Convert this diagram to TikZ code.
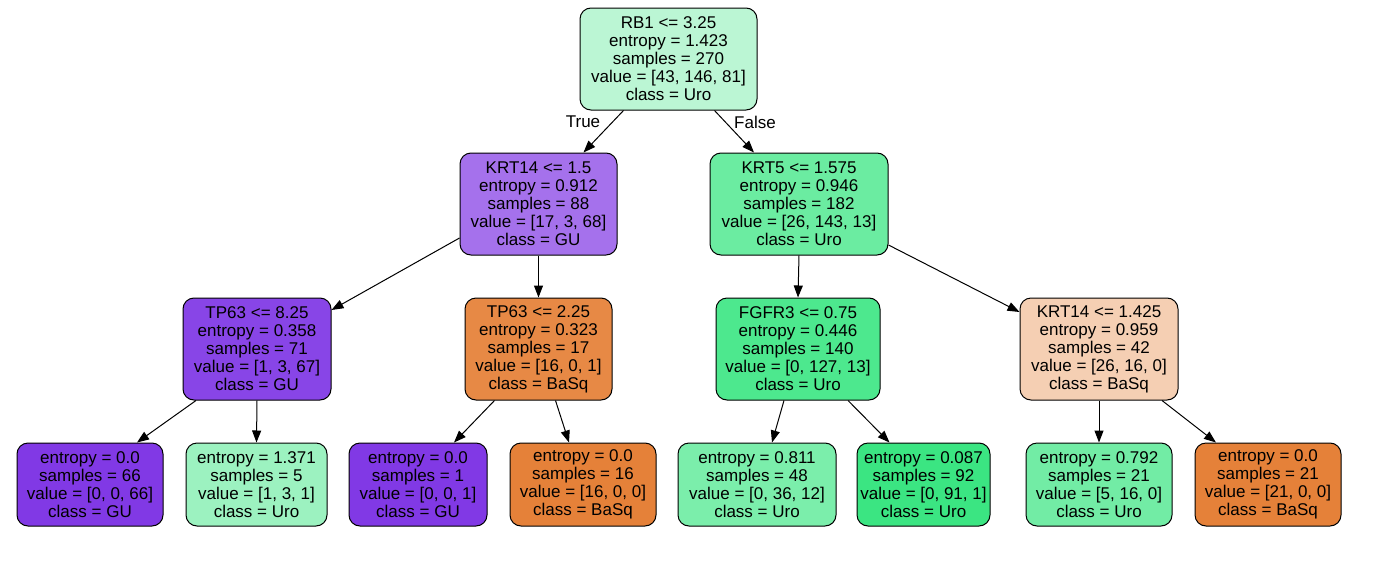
\documentclass[tikz,border=0pt]{standalone}
\usepackage{fontspec}
\setmainfont{Liberation Sans}
\usetikzlibrary{arrows.meta}
\definecolor{cRoot}{RGB}{187,246,212}
\definecolor{cKA}{RGB}{165,113,236}
\definecolor{cKB}{RGB}{107,236,161}
\definecolor{cTA}{RGB}{136,69,231}
\definecolor{cTB}{RGB}{231,137,69}
\definecolor{cFG}{RGB}{77,232,142}
\definecolor{cKC}{RGB}{245,207,179}
\definecolor{cGU}{RGB}{129,57,229}
\definecolor{cBa}{RGB}{229,129,57}
\definecolor{cLtwo}{RGB}{156,242,192}
\definecolor{cLfive}{RGB}{123,238,171}
\definecolor{cLsix}{RGB}{59,229,130}
\definecolor{cLseven}{RGB}{114,236,165}
\tikzset{
  tnode/.style={draw=black, line width=1pt, rounded corners=11pt, align=center,
    inner sep=0pt, font=\fontsize{17}{18}\selectfont, minimum height=102pt},
  leafnode/.style={tnode, minimum height=83pt},
  edge/.style={line width=1pt, -{Triangle[length=12pt,width=9pt]}},
  elabel/.style={font=\fontsize{17}{18}\selectfont}
}
\begin{document}
\begin{tikzpicture}[x=1pt,y=-1pt]
\useasboundingbox (0,0) rectangle (1379,573);
\fill[white] (0,0) rectangle (1379,573);
% internal nodes
\node[tnode, fill=cRoot, minimum width=177pt] (root) at (668.5,59) {RB1 <= 3.25\\entropy = 1.423\\samples = 270\\value = [43, 146, 81]\\class = Uro};
\node[tnode, fill=cKA, minimum width=157pt] (krtA) at (538.5,204) {KRT14 <= 1.5\\entropy = 0.912\\samples = 88\\value = [17, 3, 68]\\class = GU};
\node[tnode, fill=cKB, minimum width=178pt] (krtB) at (799,204) {KRT5 <= 1.575\\entropy = 0.946\\samples = 182\\value = [26, 143, 13]\\class = Uro};
\node[tnode, fill=cTA, minimum width=148pt] (tpA) at (257,349) {TP63 <= 8.25\\entropy = 0.358\\samples = 71\\value = [1, 3, 67]\\class = GU};
\node[tnode, fill=cTB, minimum width=147pt] (tpB) at (538.5,349) {TP63 <= 2.25\\entropy = 0.323\\samples = 17\\value = [16, 0, 1]\\class = BaSq};
\node[tnode, fill=cFG, minimum width=164pt] (fg) at (798,349) {FGFR3 <= 0.75\\entropy = 0.446\\samples = 140\\value = [0, 127, 13]\\class = Uro};
\node[tnode, fill=cKC, minimum width=158pt] (krtC) at (1099,349) {KRT14 <= 1.425\\entropy = 0.959\\samples = 42\\value = [26, 16, 0]\\class = BaSq};
% leaves
\node[leafnode, fill=cGU, minimum width=146pt] (l1) at (90,484.5) {entropy = 0.0\\samples = 66\\value = [0, 0, 66]\\class = GU};
\node[leafnode, fill=cLtwo, minimum width=141pt] (l2) at (256.5,484.5) {entropy = 1.371\\samples = 5\\value = [1, 3, 1]\\class = Uro};
\node[leafnode, fill=cGU, minimum width=138pt] (l3) at (418,484.5) {entropy = 0.0\\samples = 1\\value = [0, 0, 1]\\class = GU};
\node[leafnode, fill=cBa, minimum width=146pt] (l4) at (583,484.5) {entropy = 0.0\\samples = 16\\value = [16, 0, 0]\\class = BaSq};
\node[leafnode, fill=cLfive, minimum width=158pt] (l5) at (757,484.5) {entropy = 0.811\\samples = 48\\value = [0, 36, 12]\\class = Uro};
\node[leafnode, fill=cLsix, minimum width=133pt] (l6) at (923.5,484.5) {entropy = 0.087\\samples = 92\\value = [0, 91, 1]\\class = Uro};
\node[leafnode, fill=cLseven, minimum width=146pt] (l7) at (1099,484.5) {entropy = 0.792\\samples = 21\\value = [5, 16, 0]\\class = Uro};
\node[leafnode, fill=cBa, minimum width=146pt] (l8) at (1268,484.5) {entropy = 0.0\\samples = 21\\value = [21, 0, 0]\\class = BaSq};
% edges
\draw[edge] ([xshift=-45pt]root.south) -- ([xshift=45pt]krtA.north);
\draw[edge] ([xshift=46pt]root.south) -- ([xshift=-45pt]krtB.north);
\node[elabel] (tlab) at (583,122) {True};
\node[elabel] (flab) at (755,122) {False};
\draw[edge] ([yshift=-34pt]krtA.west) -- ([yshift=39pt]tpA.east);
\draw[edge] (krtA.south) -- (tpB.north);
\draw[edge] (krtB.south) -- (fg.north);
\draw[edge] ([yshift=-41pt]krtB.east) -- ([yshift=37pt]krtC.west);
\draw[edge] ([xshift=-61pt]tpA.south) -- ([xshift=47pt]l1.north);
\draw[edge] (tpA.south) -- (l2.north);
\draw[edge] ([xshift=-44pt]tpB.south) -- ([xshift=36pt]l3.north);
\draw[edge] ([xshift=17pt]tpB.south) -- ([xshift=-14pt]l4.north);
\draw[edge] ([xshift=-14pt]fg.south) -- ([xshift=15pt]l5.north);
\draw[edge] ([xshift=50pt]fg.south) -- ([xshift=-34pt]l6.north);
\draw[edge] (krtC.south) -- (l7.north);
\draw[edge] ([xshift=63pt]krtC.south) -- ([xshift=-52pt]l8.north);
\end{tikzpicture}
\end{document}
